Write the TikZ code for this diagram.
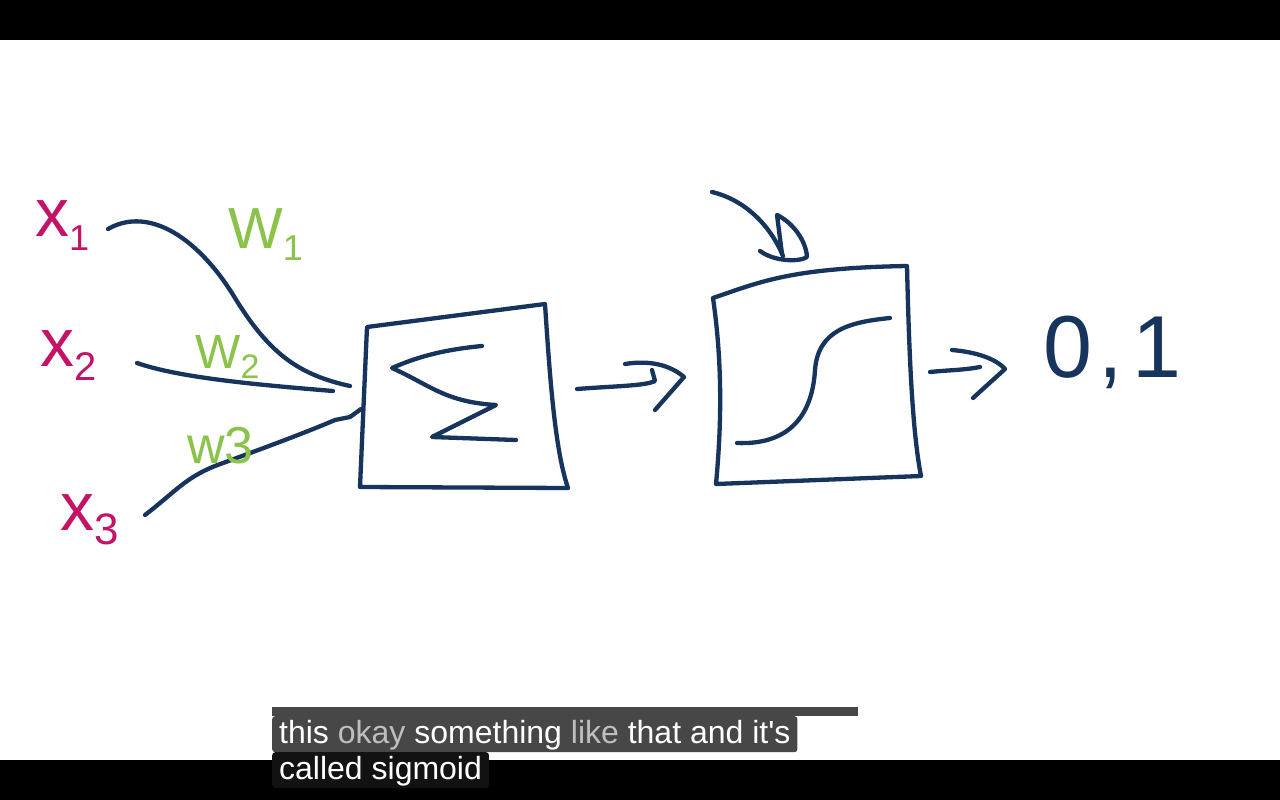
\documentclass[tikz,border=0pt]{standalone}
\usepackage{fontspec}
\setmainfont{Liberation Sans}
\usetikzlibrary{calc}

\definecolor{inkblue}{RGB}{22,52,92}
\definecolor{inkpink}{RGB}{196,18,102}
\definecolor{inkgreen}{RGB}{139,195,74}
\definecolor{capgrey}{RGB}{71,71,71}
\definecolor{capdim}{RGB}{190,190,190}
\definecolor{capdark}{RGB}{18,18,18}

\newcommand{\lowidx}[2]{\raisebox{-0.22em}{\fontsize{#1}{#1}\selectfont #2}}

\begin{document}
\begin{tikzpicture}[x=1pt, y=-1pt,
    pen/.style={draw=inkblue, line width=4.3pt, line cap=round, line join=round},
    xlabel/.style={text=inkpink, font=\fontsize{68}{68}\selectfont, inner sep=0pt, anchor=base west},
    wlabel/.style={text=inkgreen, inner sep=0pt, anchor=base west},
    caption/.style={fill=capgrey, text=white, font=\fontsize{32}{36}\selectfont, rounded corners=3pt,
      inner xsep=7pt, inner ysep=2pt, text height=25pt, text depth=7pt, anchor=north west}
  ]
  % frame of the video
  \fill[white] (0,0) rectangle (1280,800);
  \fill[black] (0,0) rectangle (1280,40);
  \fill[black] (0,760) rectangle (1280,800);
  \useasboundingbox (0,0) rectangle (1280,800);

  % inputs
  \node[xlabel] (x1) at (35,236) {x\lowidx{36}{1}};
  \node[xlabel] (x2) at (40,366) {x\lowidx{40}{2}};
  \node[xlabel] (x3) at (60,530) {x\lowidx{44}{3}};

  \coordinate (x1out) at (108,229);
  \coordinate (x2out) at (137,363);
  \coordinate (x3out) at (145,515);
  \coordinate (sumtop) at (350,386);
  \coordinate (summid) at (333,391);
  \coordinate (sumlow) at (361,409);

  \draw[pen] (x1out) .. controls (150,205) and (200,240) .. (235,298)
    .. controls (270,355) and (300,375) .. (sumtop);
  \draw[pen] (x2out) .. controls (180,378) and (260,385) .. (summid);
  \draw[pen] (x3out) .. controls (175,492) and (185,478) .. (215,466)
    .. controls (250,453) and (300,435) .. (335,420) -- (350,417) -- (sumlow);

  % sum box
  \coordinate (s1) at (367,327);
  \coordinate (s2) at (545,304);
  \coordinate (s3) at (568,488);
  \coordinate (s4) at (360,487);
  \draw[pen] (s1) -- (s2) .. controls (550,380) and (555,450) .. (s3) -- (s4) -- cycle;
  \draw[pen] (482,346) .. controls (440,350) and (415,358) .. (392,368)
    .. controls (430,385) and (445,402) .. (496,405) -- (432,437) -- (516,440);

  % arrow to activation
  \coordinate (sumout) at (577,389);
  \coordinate (acttip) at (684,377);
  \draw[pen] (sumout) .. controls (615,386) and (645,386) .. (655,381) -- (652,370);
  \draw[pen] (625,364) .. controls (650,360) and (670,365) .. (acttip) -- (655,410);

  % activation box
  \coordinate (a1) at (713,298);
  \coordinate (a2) at (907,266);
  \coordinate (a3) at (921,476);
  \coordinate (a4) at (716,484);
  \draw[pen] (a1) .. controls (760,282) and (790,268) .. (a2)
    .. controls (909,350) and (912,430) .. (a3) -- (a4)
    .. controls (722,420) and (722,360) .. (a1);
  \draw[pen] (737,443) .. controls (785,445) and (812,420) .. (815,370)
    .. controls (818,330) and (850,322) .. (890,318);

  % arrow from above
  \draw[pen] (712,192) .. controls (745,200) and (770,225) .. (783,256);
  \draw[pen] (760,251) .. controls (775,262) and (800,262) .. (807,257)
    .. controls (806,240) and (792,222) .. (777,215) -- (782,254);

  % output
  \coordinate (actout) at (930,372);
  \coordinate (outtip) at (1005,369);
  \draw[pen] (actout) .. controls (950,370) and (965,370) .. (980,367);
  \draw[pen] (952,350) .. controls (975,352) and (995,358) .. (outtip) -- (973,398);
  \node[text=inkblue, font=\fontsize{88}{88}\selectfont, inner sep=0pt, anchor=base west] (out) at (1043,377)
    {0\hspace{6pt},\hspace{10pt}1};

  % weights
  \node[wlabel, font=\fontsize{58}{58}\selectfont] (w1) at (228,248) {W\lowidx{36}{1}};
  \node[wlabel, font=\fontsize{48}{48}\selectfont] (w2) at (195,368) {W\lowidx{34}{2}};
  \node[wlabel, font=\fontsize{52}{52}\selectfont] (w3) at (187,463) {w3};

  % subtitles
  \fill[capgrey] (272,707) rectangle (858,716);
  \node[caption] (line1) at (272,716) {this \textcolor{capdim}{okay} something \textcolor{capdim}{like} that and it\textquotesingle s};
  \begin{scope}
    \clip (272,752) rectangle (500,787);
    \node[caption, fill=capdark] (line2) at (272,752) {called sigmoid};
  \end{scope}
\end{tikzpicture}
\end{document}
